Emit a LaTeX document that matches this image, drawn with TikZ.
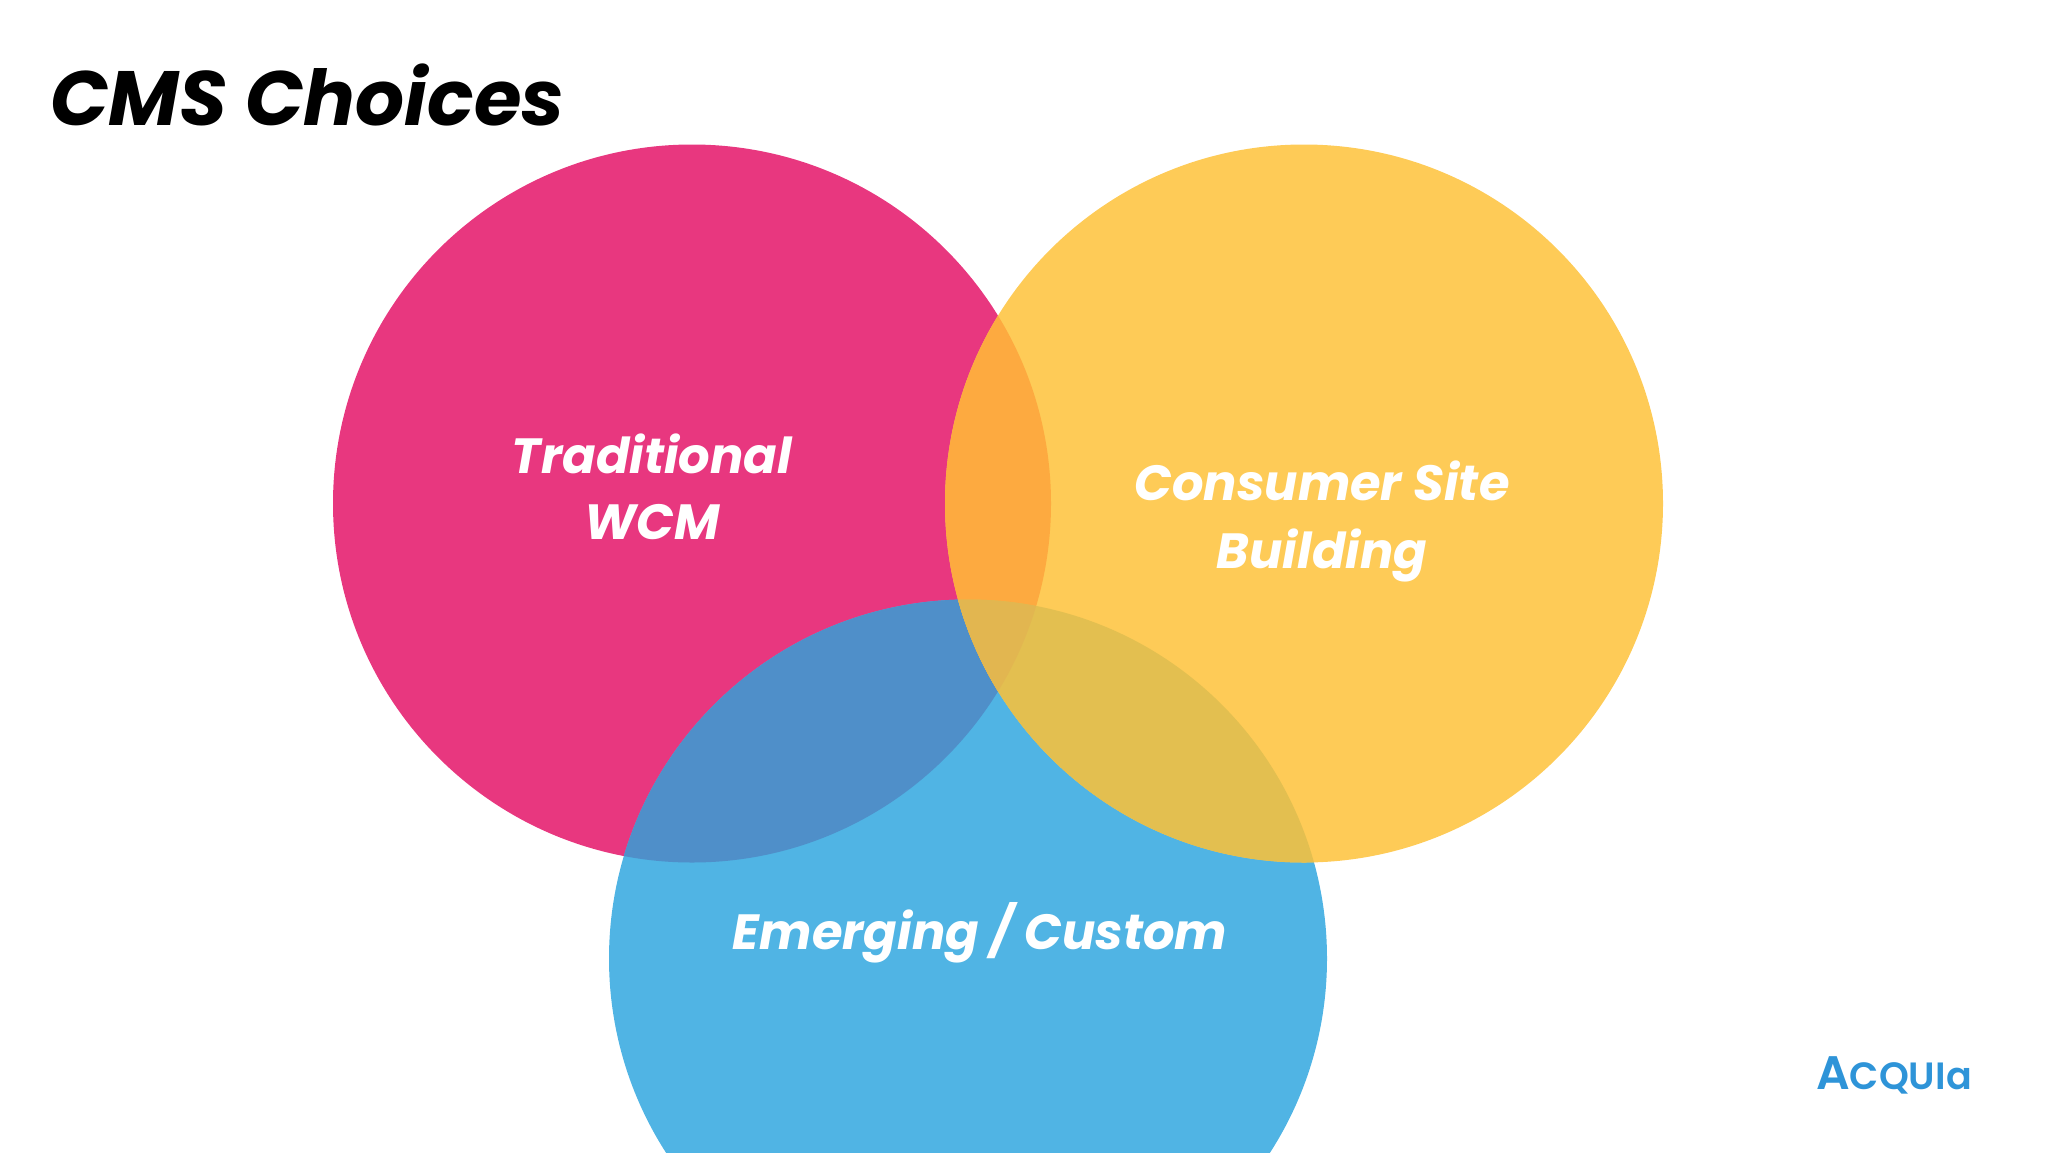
\documentclass[tikz,border=0pt]{standalone}
\usepackage{fontspec}
\setmainfont{Poppins}
\newfontfamily\logofont{Poppins SemiBold}
\definecolor{cpink}{HTML}{E8377F}
\definecolor{cyellow}{HTML}{FECB57}
\definecolor{cblue}{HTML}{50B4E4}
\definecolor{cpy}{HTML}{FDAA40}
\definecolor{cpb}{HTML}{4F8FC9}
\definecolor{cyb}{HTML}{E3BF50}
\definecolor{ctri}{HTML}{E2B650}
\definecolor{clogo}{HTML}{2E94D8}
\tikzset{
  lab/.style={anchor=base,text=white,font=\fontsize{49.5}{58}\selectfont\bfseries\itshape,inner sep=0pt},
  ttl/.style={anchor=base west,text=black,font=\fontsize{77}{96}\selectfont\bfseries\itshape,inner sep=0pt},
}
\def\pinkc{(692,503.5) circle[radius=359]}
\def\yelc{(1304,503.5) circle[radius=359]}
\def\bluec{(968,958.5) circle[radius=359]}
\begin{document}
\begin{tikzpicture}[x=1pt,y=-1pt]
\useasboundingbox (0,0) rectangle (2048,1152);
\clip (0,0) rectangle (2048,1152);
\fill[cpink] \pinkc;
\fill[cblue] \bluec;
\begin{scope}\clip \pinkc; \fill[cpb] \bluec; \end{scope}
\fill[cyellow] \yelc;
\begin{scope}\clip \yelc; \fill[cpy] \pinkc; \fill[cyb] \bluec;
  \begin{scope}\clip \pinkc; \fill[ctri] \bluec; \end{scope}
\end{scope}
\node[ttl] (title) at (50,125) {CMS Choices};
\node[lab] (trad) at (652,473) {Traditional};
\node[lab] (wcm) at (652,539) {WCM};
\node[lab] (cons) at (1322,500) {Consumer Site};
\node[lab] (build) at (1322,568) {Building};
\node[lab] (emer) at (980,949) {Emerging / Custom};
\node[anchor=base,inner sep=0pt,text=clogo,font=\logofont] (logo) at (1894,1089)
  {{\fontsize{47}{47}\selectfont A}{\fontsize{38}{38}\selectfont CQUIa}};
\end{tikzpicture}
\end{document}
